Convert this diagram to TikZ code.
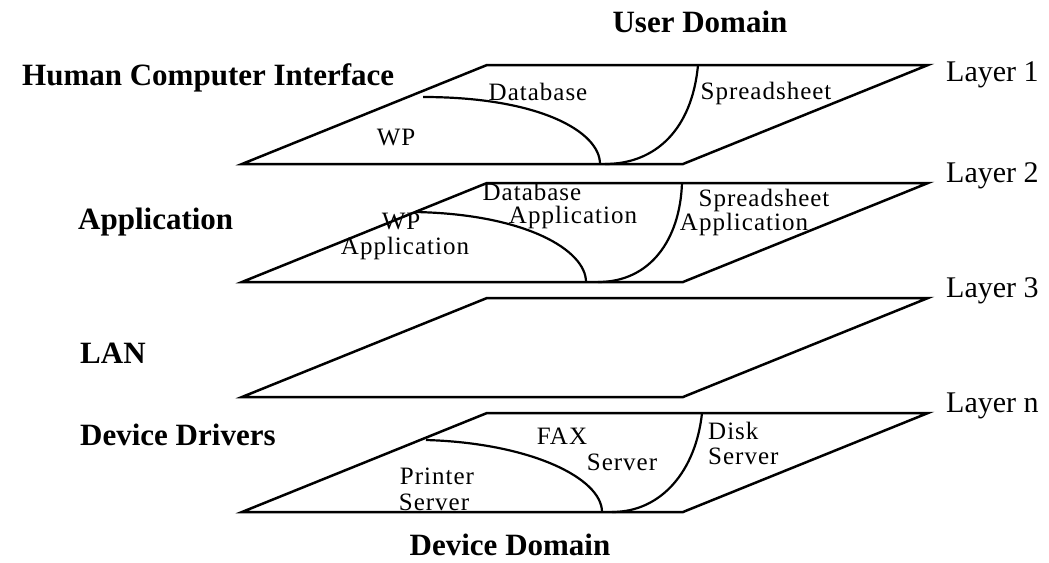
\documentclass[tikz,border=0pt]{standalone}
\usepackage{fontspec}
\setmainfont{Liberation Serif}
\newfontfamily\partfont[LetterSpace=4]{Liberation Serif}
\begin{document}
\begin{tikzpicture}[x=1pt,y=-1pt,
  plane/.style={line width=2.5pt, line join=miter, miter limit=20},
  divider/.style={line width=2.2pt},
  side/.style={font=\bfseries\fontsize{31}{33}\selectfont, inner sep=0pt},
  tag/.style={font=\fontsize{30}{32}\selectfont, anchor=west, inner sep=0pt},
  part/.style={font=\partfont\fontsize{25}{25}\selectfont, inner sep=0pt}]
\useasboundingbox (0,0) rectangle (1049,562);

% the four stacked planes: corners at top edge T and bottom edge T+99
\foreach \n/\t in {1/65, 2/183, 3/298, 4/413}{
  \pgfmathsetmacro{\b}{\t+99}
  \coordinate (p\n bl) at (242,\b);
  \coordinate (p\n br) at (683,\b);
  \coordinate (p\n tr) at (928,\t);
  \coordinate (p\n tl) at (487,\t);
  \draw[plane] (p\n bl) -- (p\n br) -- (p\n tr) -- (p\n tl) -- cycle;
}

% Layer 1: human computer interface
\draw[divider] (423,97) .. controls (540,97) and (600,132) .. (600,164);
\draw[divider] (698,65) .. controls (692,130) and (655,164) .. (605,164);
\node[part] (db1) at (538,92) {Database};
\node[part] (wp1) at (396,138) {WP};
\node[part] (ss1) at (766,93) {Spreadsheet};

% Layer 2: applications
\draw[divider] (415,212) .. controls (525,214) and (586,250) .. (586,282);
\draw[divider] (682,183) .. controls (680,240) and (650,282) .. (598,282);
\node[part] (db2a) at (532,192) {Database};
\node[part] (db2b) at (573,217) {Application};
\node[part] (wp2a) at (401,222) {WP};
\node[part] (wp2b) at (405,248) {Application};
\node[part] (ss2a) at (764,200) {Spreadsheet};
\node[part] (ss2b) at (744,224) {Application};

% Layer n: device servers
\draw[divider] (426,440) .. controls (530,443) and (602,478) .. (602,512);
\draw[divider] (702,413) .. controls (696,470) and (662,512) .. (612,512);
\node[part] (fx1) at (562,436) {FAX};
\node[part] (fx2) at (622,462) {Server};
\node[part] (pr1) at (437,476) {Printer};
\node[part] (pr2) at (434,502) {Server};
\node[part, anchor=west] (dk1) at (708,431) {Disk};
\node[part, anchor=west] (dk2) at (708,456) {Server};

% layer numbers on the right
\node[tag] (l1) at (946,75) {Layer 1};
\node[tag] (l2) at (946,176) {Layer 2};
\node[tag] (l3) at (946,291) {Layer 3};
\node[tag] (ln) at (946,406) {Layer n};

% layer names on the left
\node[side, anchor=west] (hci) at (22,78) {Human Computer Interface};
\node[side, anchor=west] (app) at (78,222) {Application};
\node[side, anchor=west] (lan) at (80,353) {LAN};
\node[side, anchor=west] (dev) at (80,435) {Device Drivers};

% domains
\node[side] (user) at (700,22) {User Domain};
\node[side] (device) at (510,545) {Device Domain};
\end{tikzpicture}
\end{document}
